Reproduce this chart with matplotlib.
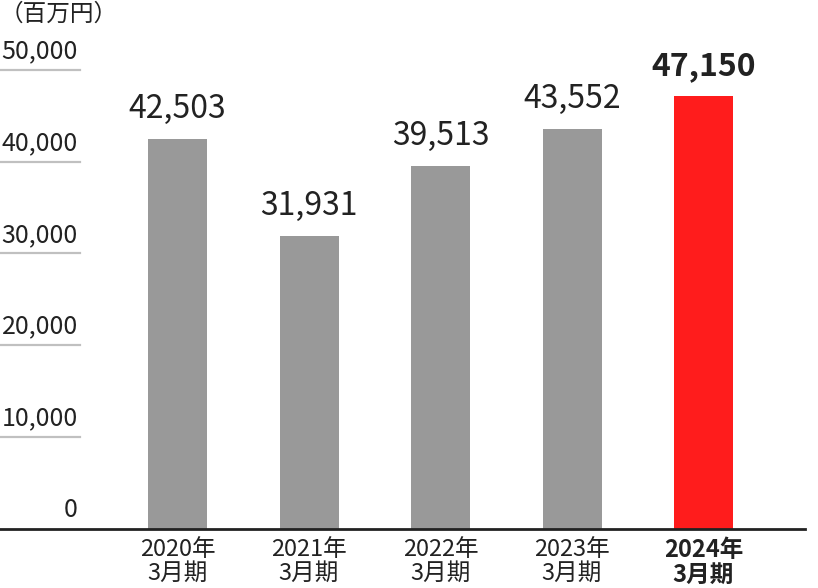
import matplotlib.pyplot as plt

plt.rcParams['font.family'] = ['Noto Sans CJK JP', 'DejaVu Sans']

# データ
years = ['2020年', '2021年', '2022年', '2023年', '2024年']
values = [42503, 31931, 39513, 43552, 47150]
yticks = [0, 10000, 20000, 30000, 40000, 50000]
bar_colors = ['#999999', '#999999', '#999999', '#999999', '#ff1c1c']
txt = '#222222'

W, H = 818, 588
fig = plt.figure(figsize=(W / 100, H / 100), dpi=100)

# 軸の配置（ピクセル基準）
y0, y50 = 528.5, 70.0
ax = fig.add_axes([0, (H - y0) / H, 1, (y0 - y50) / H])
step = 131.5
c0 = 177.5
ax.set_xlim(-c0 / step, (W - c0) / step)
ax.set_ylim(0, 50000)
ax.axis('off')

x = list(range(len(years)))
ax.bar(x, values, width=59 / step, color=bar_colors, zorder=2)

# 目盛り線（短い）と目盛りラベル
for v in yticks[1:]:
    ax.axhline(v, xmin=0, xmax=80 / W, color='#c0c0c0', lw=1.6, clip_on=False)
for v in yticks:
    ax.annotate(f'{v:,}', xy=(78 / W, v), xycoords=('axes fraction', 'data'),
                xytext=(0, 4), textcoords='offset points',
                ha='right', va='bottom', fontsize=18, color=txt)

# 基準線
ax.axhline(0, xmin=0, xmax=805 / W, color='#222222', lw=2, clip_on=False, zorder=3)

# 値ラベル
for i, v in enumerate(values):
    bold = i == len(values) - 1
    ax.annotate(f'{v:,}', xy=(i, v), xytext=(0, 10), textcoords='offset points',
                ha='center', va='bottom', fontsize=23, color=txt,
                fontweight='bold' if bold else 'normal')

# 年度ラベル
for i, yl in enumerate(years):
    bold = i == len(years) - 1
    ax.annotate(f'{yl}\n3月期', xy=(i, 0), xytext=(0, -7), textcoords='offset points',
                ha='center', va='top', fontsize=17, color=txt, linespacing=1.04,
                fontweight='bold' if bold else 'normal')

fig.text(0, 1 - 3 / H, '（百万円）', ha='left', va='top', fontsize=17, color=txt)

fig.savefig('out.png', dpi=100)
